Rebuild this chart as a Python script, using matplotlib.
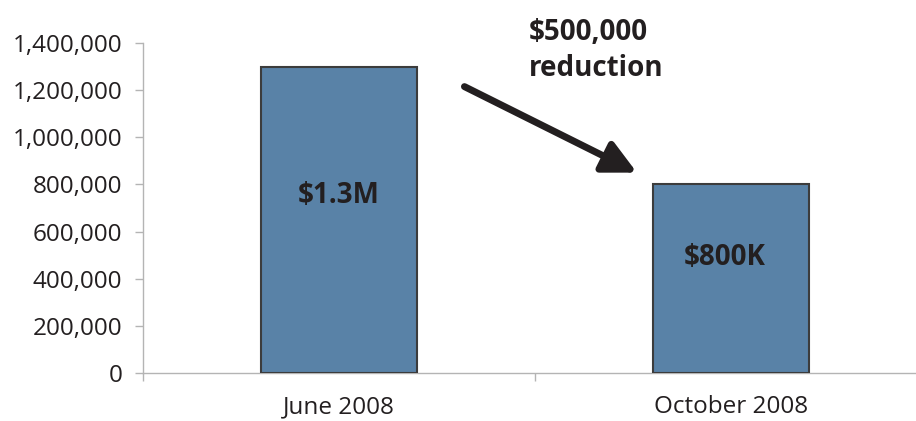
import matplotlib
matplotlib.use("Agg")
import matplotlib.pyplot as plt
from matplotlib.ticker import FuncFormatter

# data
categories = ["June 2008", "October 2008"]
values = [1300000, 800000]
bar_labels = ["$1.3M", "$800K"]
note_text = "$500,000\nreduction"

plt.rcParams["font.family"] = ["Open Sans", "DejaVu Sans"]
text_color = "#231f20"
grid_gray = "#b4b4b4"

fig = plt.figure(figsize=(9.16, 4.21), dpi=100)
ax = fig.add_axes([143 / 916, 48 / 421, 784 / 916, 330 / 421])

x = range(len(categories))
ax.bar(x, values, width=0.4, color="#5982a7", edgecolor="#3c3c3c", linewidth=1.5,
       zorder=3)

# labels inside the bars (placed as a share of the bar height)
label_frac = [0.58, 0.615]
label_shift = [0, -4.5]
for xi, lab, v, f, dx in zip(x, bar_labels, values, label_frac, label_shift):
    ax.annotate(lab, xy=(xi, v * f), xytext=(dx, 0), textcoords="offset points",
                ha="center", va="center", fontsize=20, fontweight="bold",
                color=text_color, zorder=4)

ax.set_xlim(-0.5, 1.5)
ax.set_ylim(0, 1400000)
ax.set_yticks(range(0, 1400001, 200000))
ax.yaxis.set_major_formatter(FuncFormatter(lambda v, p: f"{int(v):,}"))

ax.set_xticks(list(x))
ax.set_xticklabels(categories)
ax.set_xticks([-0.5, 0.5, 1.5], minor=True)

for s in ["top", "right"]:
    ax.spines[s].set_visible(False)
for s in ["left", "bottom"]:
    ax.spines[s].set_color(grid_gray)
    ax.spines[s].set_linewidth(1)

ax.tick_params(axis="y", length=6, width=1, color=grid_gray, pad=9,
               labelsize=17.5, labelcolor=text_color)
ax.tick_params(axis="x", which="major", length=0, pad=16, labelsize=17.5,
               labelcolor=text_color)
ax.tick_params(axis="x", which="minor", length=6, width=1, color=grid_gray)

# annotation arrow and text
ax.annotate("", xy=(0.76, 850000), xytext=(0.32, 1215000),
            arrowprops=dict(arrowstyle="-|>,head_length=2.0,head_width=1.0",
                            lw=5, color=text_color, shrinkA=0, shrinkB=0),
            zorder=5)
ax.text(0.485, 1370000, note_text, ha="left", va="center", fontsize=20,
        fontweight="bold", color=text_color, linespacing=1.32, clip_on=False)

fig.savefig("out.png", dpi=100)
